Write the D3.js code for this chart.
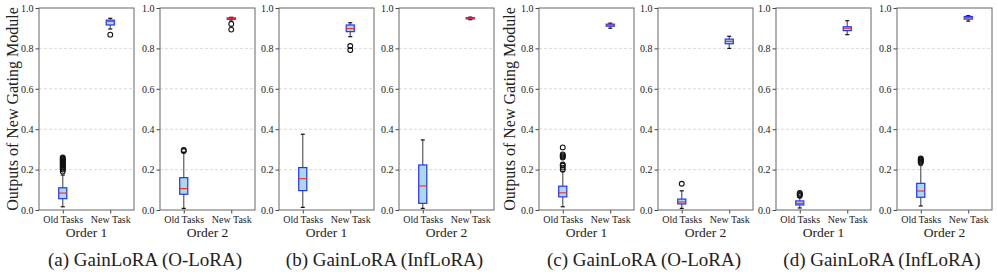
<!DOCTYPE html>
<html>
<head>
<script src="https://d3js.org/d3.v7.min.js"></script>
<style>
  body { margin: 0; background: #fff; }
</style>
</head>
<body>
<svg id="chart" width="997" height="272"></svg>
<script>
// box stats per panel: [whiskerLow, q1, median, q3, whiskerHigh]
const categories = ['Old Tasks', 'New Task'];
const orderLabels = ['Order 1', 'Order 2', 'Order 1', 'Order 2', 'Order 1', 'Order 2', 'Order 1', 'Order 2'];
const captions = ['(a) GainLoRA (O-LoRA)', '(b) GainLoRA (InfLoRA)', '(c) GainLoRA (O-LoRA)', '(d) GainLoRA (InfLoRA)'];
const yTicks = [0, 0.2, 0.4, 0.6, 0.8, 1.0];

const oldStats = [
  [0.016, 0.056, 0.084, 0.110, 0.173],
  [0.008, 0.078, 0.106, 0.160, 0.285],
  [0.013, 0.096, 0.155, 0.210, 0.375],
  [0.008, 0.033, 0.119, 0.223, 0.347],
  [0.016, 0.065, 0.085, 0.118, 0.190],
  [0.008, 0.030, 0.040, 0.054, 0.095],
  [0.010, 0.025, 0.033, 0.045, 0.062],
  [0.020, 0.063, 0.094, 0.132, 0.222]
];
const newStats = [
  [0.896, 0.916, 0.934, 0.940, 0.949],
  [0.935, 0.944, 0.948, 0.951, 0.954],
  [0.858, 0.883, 0.898, 0.916, 0.927],
  [0.942, 0.946, 0.949, 0.952, 0.955],
  [0.900, 0.910, 0.915, 0.920, 0.925],
  [0.800, 0.823, 0.835, 0.846, 0.860],
  [0.868, 0.888, 0.900, 0.907, 0.937],
  [0.935, 0.945, 0.952, 0.958, 0.962]
];
const oldOutliers = [
  [0.19, 0.20, 0.205, 0.21, 0.215, 0.22, 0.225, 0.23, 0.235, 0.24, 0.245, 0.25, 0.255, 0.26],
  [0.292, 0.297],
  [],
  [],
  [0.20, 0.21, 0.22, 0.225, 0.26, 0.265, 0.27, 0.275, 0.31],
  [0.13],
  [0.07, 0.075, 0.08, 0.085],
  [0.235, 0.24, 0.245, 0.25, 0.255]
];
const newOutliers = [
  [0.868],
  [0.921, 0.893],
  [0.812, 0.792],
  [],
  [],
  [],
  [],
  []
];

const serif = "'Liberation Serif', 'Times New Roman', Times, 'DejaVu Serif', serif";
const svg = d3.select('#chart');
const panelLefts = [39, 160, 279, 399, 539, 658, 776, 897];
const panelW = 95;
const plotTop = 8, plotBottom = 210;
const boxW = 0.17, capW = 0.085;

const y = d3.scaleLinear().domain([0, 1]).range([plotBottom, plotTop]);

panelLefts.forEach((left, i) => {
  const x = d3.scaleLinear().domain([0.5, 2.5]).range([left, left + panelW]);
  const g = svg.append('g');

  // grid
  g.selectAll('line.grid').data(yTicks.slice(1, -1)).join('line')
    .attr('class', 'grid')
    .attr('x1', left).attr('x2', left + panelW)
    .attr('y1', d => y(d)).attr('y2', d => y(d))
    .attr('stroke', '#cccccc').attr('stroke-width', 0.7).attr('stroke-dasharray', '3,2');

  // axes
  const ya = g.append('g').attr('transform', `translate(${left},0)`)
    .call(d3.axisLeft(y).tickValues(yTicks).tickFormat(d3.format('.1f')).tickSize(3.5).tickPadding(2));
  ya.select('.domain').remove();
  ya.selectAll('line').attr('stroke', '#444');
  ya.selectAll('text').style('font-family', serif).style('font-size', '10px').attr('fill', '#222');

  const xa = g.append('g').attr('transform', `translate(0,${plotBottom})`)
    .call(d3.axisBottom(x).tickValues([1, 2]).tickFormat((d, k) => categories[k]).tickSize(3.5).tickPadding(2));
  xa.select('.domain').remove();
  xa.selectAll('line').attr('stroke', '#444');
  xa.selectAll('text').style('font-family', serif).style('font-size', '10px').attr('fill', '#222');

  // boxes
  [oldStats[i], newStats[i]].forEach((s, k) => {
    const cx = x(k + 1);
    const outs = k === 0 ? oldOutliers[i] : newOutliers[i];
    const half = (x(boxW) - x(0)) / 2;
    const capHalf = (x(capW) - x(0)) / 2;
    g.append('line').attr('x1', cx).attr('x2', cx).attr('y1', y(s[0])).attr('y2', y(s[1]))
      .attr('stroke', '#666').attr('stroke-width', 1.3);
    g.append('line').attr('x1', cx).attr('x2', cx).attr('y1', y(s[3])).attr('y2', y(s[4]))
      .attr('stroke', '#666').attr('stroke-width', 1.3);
    [s[0], s[4]].forEach(v => {
      g.append('line').attr('x1', cx - capHalf).attr('x2', cx + capHalf).attr('y1', y(v)).attr('y2', y(v))
        .attr('stroke', '#111').attr('stroke-width', 1.2);
    });
    g.append('rect').attr('x', cx - half).attr('width', half * 2)
      .attr('y', y(s[3])).attr('height', Math.max(y(s[1]) - y(s[3]), 0.5))
      .attr('fill', '#add8e6').attr('stroke', '#2233ff').attr('stroke-width', 1.2);
    g.append('line').attr('x1', cx - half).attr('x2', cx + half).attr('y1', y(s[2])).attr('y2', y(s[2]))
      .attr('stroke', '#ff2222').attr('stroke-width', 1.1);
    g.selectAll(null).data(outs).join('circle')
      .attr('cx', cx).attr('cy', d => y(d)).attr('r', 2.4)
      .attr('fill', 'none').attr('stroke', '#111').attr('stroke-width', 1.1);
  });

  // frame
  g.append('rect').attr('x', left).attr('y', plotTop).attr('width', panelW).attr('height', plotBottom - plotTop)
    .attr('fill', 'none').attr('stroke', '#666').attr('stroke-width', 1);

  g.append('text').attr('x', left + panelW / 2).attr('y', 237).attr('text-anchor', 'middle')
    .style('font-family', serif).style('font-size', '13.5px').attr('fill', '#222').text(orderLabels[i]);
});

// y labels
[0, 4].forEach(i => {
  const cx = i === 0 ? 12 : 509;
  svg.append('text').attr('transform', `translate(${cx},${(plotTop + plotBottom) / 2}) rotate(-90)`)
    .attr('text-anchor', 'middle').attr('dy', '0.35em')
    .style('font-family', serif).style('font-size', '16px').attr('fill', '#222')
    .text('Outputs of New Gating Module');
});

// captions
captions.forEach((c, j) => {
  const l = panelLefts[j * 2], r = panelLefts[j * 2 + 1] + panelW;
  svg.append('text').attr('x', (l + r) / 2 - 2).attr('y', 266).attr('text-anchor', 'middle')
    .style('font-family', serif).style('font-size', '19px').attr('fill', '#222').text(c);
});
</script>
</body>
</html>
